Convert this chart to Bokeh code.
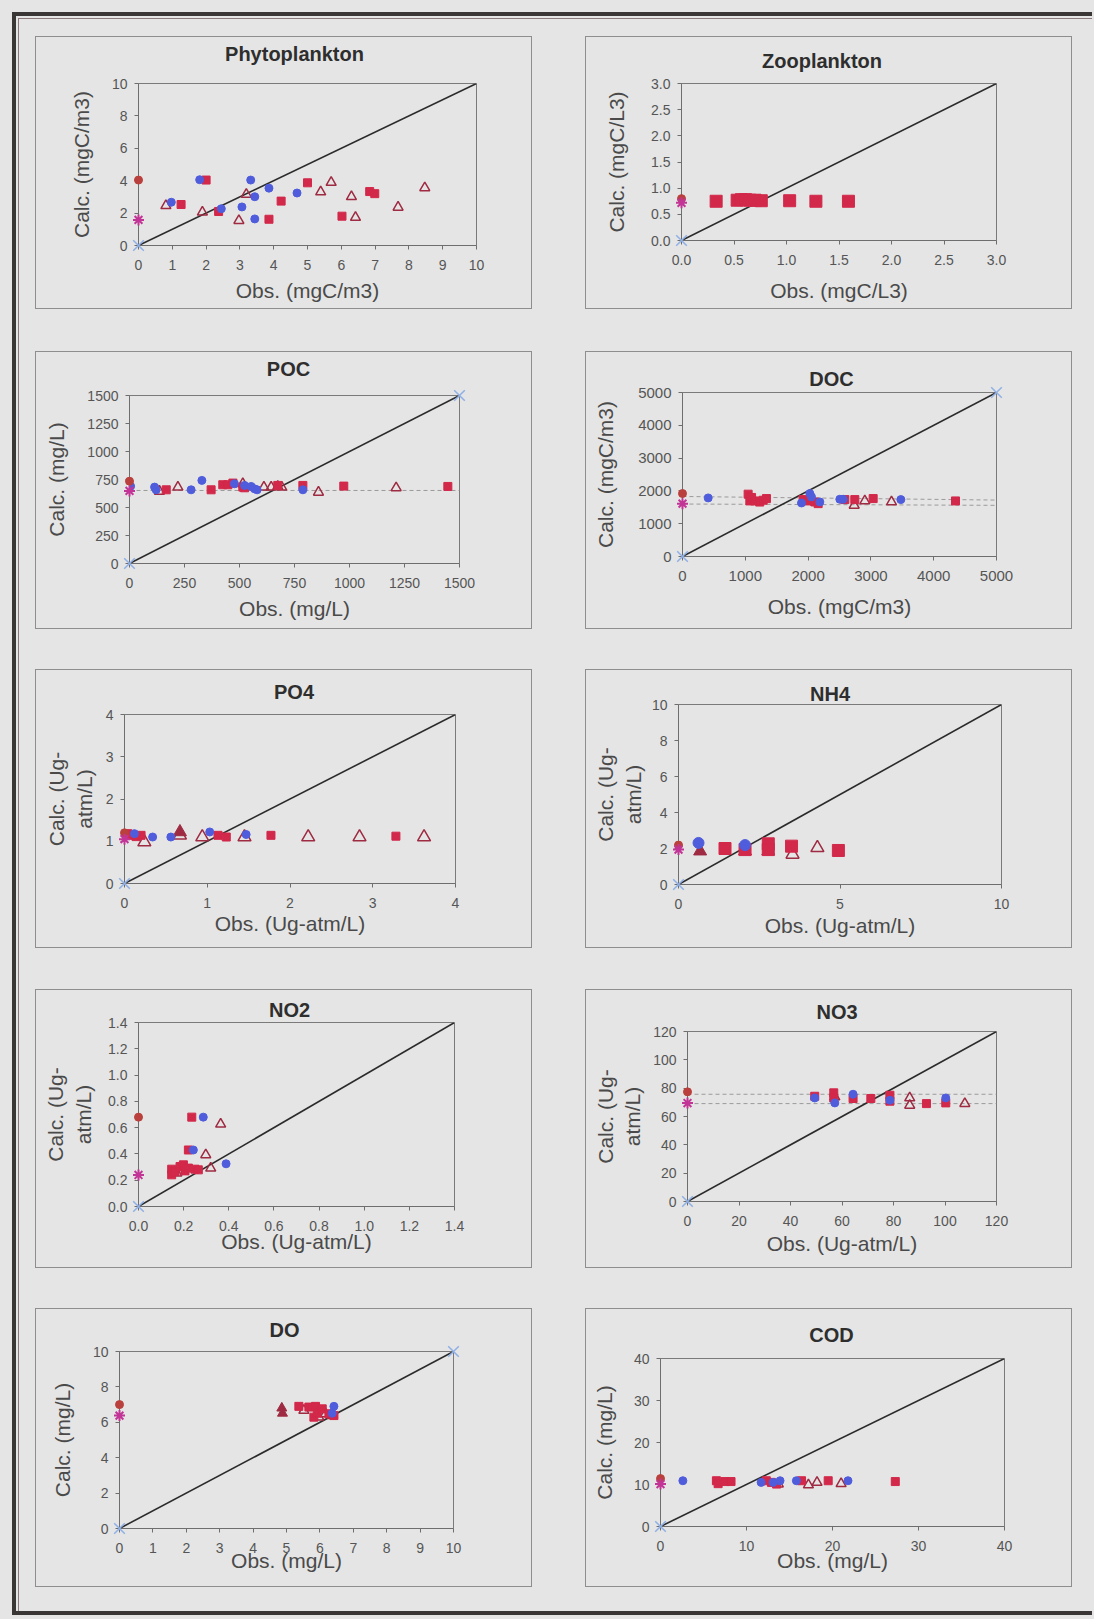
from bokeh.plotting import figure
from bokeh.layouts import column, row
from bokeh.models import Spacer, Range1d, FixedTicker, PrintfTickFormatter
from bokeh.core.properties import value
from bokeh.embed import file_html
from bokeh.resources import INLINE

# ---------------- data ----------------
# Phytoplankton
phyto_circ_x = [0.97, 1.81, 2.45, 3.06, 3.32, 3.44, 3.44, 3.86, 4.69]
phyto_circ_y = [2.67, 4.06, 2.27, 2.38, 4.04, 3.01, 1.64, 3.54, 3.24]
phyto_sq_x = [1.26, 2.0, 2.37, 3.86, 4.22, 5.0, 6.02, 6.84, 6.99]
phyto_sq_y = [2.53, 4.04, 2.10, 1.62, 2.74, 3.87, 1.81, 3.33, 3.20]
phyto_tri_x = [0.81, 1.89, 2.97, 3.19, 5.39, 5.70, 6.30, 6.42, 7.68, 8.47]
phyto_tri_y = [2.46, 2.06, 1.54, 3.16, 3.31, 3.89, 3.01, 1.73, 2.36, 3.56]
phyto_dot0 = [4.04]
phyto_star0 = [1.58]
phyto_ends = [0]

# Zooplankton
zoo_sq_x = [0.33, 0.53, 0.57, 0.61, 0.65, 0.70, 0.76, 1.03, 1.28, 1.59]
zoo_sq_y = [0.75, 0.77, 0.78, 0.78, 0.77, 0.77, 0.76, 0.76, 0.75, 0.75]
zoo_dot0 = [0.80]
zoo_star0 = [0.72]
zoo_ends = [0]

# POC
poc_circ_x = [5, 114, 121, 280, 329, 477, 523, 553, 568, 580, 788]
poc_circ_y = [690, 682, 658, 658, 742, 712, 697, 688, 667, 658, 658]
poc_sq_x = [167, 371, 424, 447, 470, 515, 523, 674, 788, 974, 1447]
poc_sq_y = [658, 658, 703, 703, 718, 682, 676, 697, 697, 691, 688]
poc_tri_x = [136, 220, 515, 611, 644, 674, 692, 859, 1212]
poc_tri_y = [645, 682, 712, 682, 682, 688, 682, 636, 676]
poc_dot0 = [735]
poc_star0 = [648]
poc_ends = [0, 1500]
poc_trend_y = [[652, 652]]

# DOC
doc_circ_x = [409, 1895, 2028, 2054, 2187, 2505, 2558, 3477]
doc_circ_y = [1786, 1632, 1920, 1817, 1663, 1745, 1745, 1735]
doc_sq_x = [1045, 1072, 1100, 1152, 1230, 1284, 1337, 1921, 2001, 2107, 2160, 2585, 2744, 3036, 4347]
doc_sq_y = [1900, 1694, 1800, 1694, 1660, 1715, 1766, 1735, 1694, 1663, 1612, 1735, 1735, 1766, 1694]
doc_tri_x = [1100, 2734, 2903, 3328]
doc_tri_y = [1690, 1560, 1694, 1663]
doc_dot0 = [1920]
doc_star0 = [1612]
doc_ends = [0, 5000]
doc_trend_y = [[1830, 1720], [1600, 1560]]

# PO4
po4_circ_x = [0.12, 0.34, 0.56, 1.03, 1.47]
po4_circ_y = [1.18, 1.10, 1.10, 1.22, 1.16]
po4_sq_x = [0.04, 0.08, 0.14, 0.20, 1.13, 1.23, 1.77, 3.28]
po4_sq_y = [1.18, 1.14, 1.11, 1.14, 1.14, 1.10, 1.14, 1.12]
po4_tri_x = [0.24, 0.67, 0.94, 1.45, 2.22, 2.84, 3.62]
po4_tri_y = [0.98, 1.14, 1.10, 1.10, 1.10, 1.10, 1.10]
po4_trf_x = [0.67]
po4_trf_y = [1.22]
po4_dot0 = [1.20]
po4_star0 = [1.05]
po4_ends = [0]

# NH4
nh4_circ_x = [0.62, 2.06]
nh4_circ_y = [2.31, 2.19]
nh4_sq_x = [1.44, 2.06, 2.78, 2.78, 3.50, 4.95]
nh4_sq_y = [2.00, 1.94, 2.26, 1.94, 2.13, 1.89]
nh4_tri_x = [3.53, 4.30]
nh4_tri_y = [1.67, 2.04]
nh4_trf_x = [0.67, 2.06, 2.78]
nh4_trf_y = [1.85, 1.85, 1.85]
nh4_dot0 = [2.19]
nh4_star0 = [1.94]
nh4_ends = [0]

# NO2
no2_circ_x = [0.243, 0.287, 0.388]
no2_circ_y = [0.43, 0.68, 0.325]
no2_sq_x = [0.147, 0.147, 0.162, 0.184, 0.199, 0.206, 0.221, 0.221, 0.236, 0.25, 0.265]
no2_sq_y = [0.284, 0.241, 0.266, 0.304, 0.317, 0.271, 0.292, 0.43, 0.68, 0.284, 0.279]
no2_tri_x = [0.17, 0.298, 0.32, 0.364]
no2_tri_y = [0.254, 0.393, 0.292, 0.626]
no2_dot0 = [0.68]
no2_star0 = [0.24]
no2_ends = [0]

# NO3
no3_circ_x = [49.4, 57.2, 64.3, 78.6, 100.3]
no3_circ_y = [73.1, 69.6, 75.7, 71.5, 73.1]
no3_sq_x = [49.4, 56.8, 56.8, 64.3, 71.2, 78.6, 78.6, 92.8, 100.3]
no3_sq_y = [74.3, 76.7, 73.1, 72.7, 72.7, 75.0, 70.8, 69.1, 69.6]
no3_tri_x = [57.2, 86.3, 86.3, 107.7]
no3_tri_y = [73.8, 73.1, 67.9, 69.1]
no3_dot0 = [77.4]
no3_star0 = [69.5]
no3_ends = [0]
no3_trend_y = [[75.7, 75.7], [69.1, 69.1]]

# DO
do_circ_x = [6.37, 6.42]
do_circ_y = [6.51, 6.90]
do_sq_x = [5.37, 5.67, 5.82, 5.87, 5.92, 6.07, 6.27, 6.42]
do_sq_y = [6.90, 6.86, 6.29, 6.90, 6.51, 6.76, 6.48, 6.38]
do_tri_x = [5.52, 5.97, 6.17, 6.37]
do_tri_y = [6.67, 6.29, 6.48, 6.38]
do_trf_x = [4.86, 4.88]
do_trf_y = [6.80, 6.51]
do_dot0 = [7.0]
do_star0 = [6.38]
do_ends = [0, 10]

# COD
cod_circ_x = [2.6, 11.7, 13.1, 13.9, 15.8, 21.8]
cod_circ_y = [10.9, 10.5, 10.5, 10.9, 10.9, 10.9]
cod_sq_x = [6.5, 6.7, 7.5, 8.2, 12.3, 12.9, 13.5, 16.4, 19.5, 27.3]
cod_sq_y = [10.9, 10.2, 10.7, 10.7, 10.9, 10.5, 10.1, 10.9, 10.9, 10.7]
cod_tri_x = [13.7, 17.2, 18.2, 21.0]
cod_tri_y = [10.1, 9.9, 10.5, 10.2]
cod_dot0 = [11.4]
cod_star0 = [10.1]
cod_ends = [0]

# axes
phyto_xticks = [0, 1, 2, 3, 4, 5, 6, 7, 8, 9, 10]
phyto_yticks = [0, 2, 4, 6, 8, 10]
zoo_ticks = [0, 0.5, 1.0, 1.5, 2.0, 2.5, 3.0]
poc_ticks = [0, 250, 500, 750, 1000, 1250, 1500]
doc_ticks = [0, 1000, 2000, 3000, 4000, 5000]
po4_ticks = [0, 1, 2, 3, 4]
nh4_xticks = [0, 5, 10]
nh4_yticks = [0, 2, 4, 6, 8, 10]
no2_ticks = [0, 0.2, 0.4, 0.6, 0.8, 1.0, 1.2, 1.4]
no3_ticks = [0, 20, 40, 60, 80, 100, 120]
do_xticks = [0, 1, 2, 3, 4, 5, 6, 7, 8, 9, 10]
do_yticks = [0, 2, 4, 6, 8, 10]
cod_ticks = [0, 10, 20, 30, 40]

# ---------------- style ----------------
BG = "#e5e5e5"
PANEL_BORDER = "#8e8e8e"
FONT = "Liberation Sans"
C_BLUE = "#4f5ddc"
C_RED = "#d2284a"
C_TRI = "#9e2b42"
C_DOT = "#b9403c"
C_STAR = "#c23596"
C_X = "#8fb0e6"


def panel(title, xlabel, ylabel, xmax, ymax, xticks, yticks, fmt, g,
          circ=None, sq=None, tri=None, trf=None, dot0=None, star0=None,
          ends=None, trends=None, msize=(8, 8, 10)):
    w, h, bl, br, bt, bb, tdx, tdy, yls, xls, tick_fs = g
    p = figure(width=w, height=h, x_range=Range1d(0, xmax), y_range=Range1d(0, ymax),
               title=None, output_backend="svg", toolbar_location=None,
               min_border_left=bl, min_border_right=br,
               min_border_top=bt, min_border_bottom=bb,
               background_fill_color=BG, border_fill_color=BG,
               outline_line_color="#7a7a7a", outline_line_width=1,
               styles={"border": "1px solid " + PANEL_BORDER, "flex-shrink": "0"})
    p.grid.visible = False
    for ax, ticks in ((p.xaxis[0], xticks), (p.yaxis[0], yticks)):
        ax.ticker = FixedTicker(ticks=ticks)
        ax.minor_tick_line_color = None
        ax.major_tick_in = 0
        ax.major_tick_out = 4
        ax.axis_line_color = "#6e6e6e"
        ax.major_tick_line_color = "#6e6e6e"
        ax.major_label_text_font = FONT
        ax.major_label_text_font_size = tick_fs
        ax.major_label_text_color = "#555555"
        ax.axis_label_text_font = FONT
        ax.axis_label_text_font_size = "21px"
        ax.axis_label_text_font_style = "normal"
        ax.axis_label_text_color = "#4a4a4a"
        if fmt:
            ax.formatter = PrintfTickFormatter(format=fmt)
    p.xaxis.axis_label = xlabel
    p.yaxis.axis_label = ylabel
    p.xaxis.major_label_standoff = 10
    p.yaxis.major_label_standoff = 7
    p.xaxis.axis_label_standoff = xls
    p.yaxis.axis_label_standoff = yls

    # chart title, anchored above the frame centre
    t = p.text(x=[xmax / 2], y=[ymax], text=[title], x_offset=tdx, y_offset=-tdy,
               text_align="center", text_baseline="middle",
               text_font=value(FONT), text_font_size="20px",
               text_font_style="bold", text_color="#2e2e2e")
    t.level = "overlay"

    if trends:
        for ty in trends:
            p.line([0, xmax], ty, line_color="#9a9a9a", line_width=1, line_dash="4 3")
    p.line([0, xmax], [0, ymax], line_color="#2b2b2b", line_width=1.6)
    cs, ss, tsz = msize
    if tri:
        p.scatter(tri[0], tri[1], marker="triangle", size=tsz, fill_color=None,
                  line_color=C_TRI, line_width=1.5)
    if trf:
        p.scatter(trf[0], trf[1], marker="triangle", size=tsz, fill_color=C_TRI,
                  line_color=C_TRI, line_width=1)
    if sq:
        p.scatter(sq[0], sq[1], marker="square", size=ss, fill_color=C_RED,
                  line_color=C_RED)
    if circ:
        p.scatter(circ[0], circ[1], marker="circle", size=cs, fill_color=C_BLUE,
                  line_color=C_BLUE)
    if dot0:
        r = p.scatter([0] * len(dot0), dot0, marker="circle", size=8, fill_color=C_DOT,
                      line_color=C_DOT)
        r.level = "overlay"
    if star0:
        r = p.scatter([0] * len(star0), star0, marker="asterisk", size=11,
                      line_color=C_STAR, line_width=2)
        r.level = "overlay"
    if ends:
        r = p.scatter(ends, [e * ymax / xmax for e in ends], marker="x", size=15,
                      line_color=C_X, line_width=1.5)
        r.level = "overlay"
    return p


# geometry: width, height, border l, r, t, b, title dx, title dy,
#           ylabel standoff, xlabel standoff, tick font
LW, RW = 497, 487
H = [273, 278, 279, 279, 279]

p1 = panel("Phytoplankton", "Obs. (mgC/m3)", "Calc. (mgC/m3)", 10, 10,
           phyto_xticks, phyto_yticks, None,
           (LW, H[0], 102, 57, 46, 65, -13, 30, 16, 6, "14px"),
           circ=(phyto_circ_x, phyto_circ_y), sq=(phyto_sq_x, phyto_sq_y),
           tri=(phyto_tri_x, phyto_tri_y), dot0=phyto_dot0, star0=phyto_star0,
           ends=phyto_ends)
p2 = panel("Zooplankton", "Obs. (mgC/L3)", "Calc. (mgC/L3)", 3, 3,
           zoo_ticks, zoo_ticks, "%.1f",
           (RW, H[0], 95, 77, 46, 70, -17, 23, 20, 11, "14px"),
           sq=(zoo_sq_x, zoo_sq_y), dot0=zoo_dot0, star0=zoo_star0, ends=zoo_ends,
           msize=(8, 12, 10))
p3 = panel("POC", "Obs. (mg/L)", "Calc. (mg/L)", 1500, 1500,
           poc_ticks, poc_ticks, None,
           (LW, H[1], 93, 74, 43, 67, -6, 27, 16, 6, "14px"),
           circ=(poc_circ_x, poc_circ_y), sq=(poc_sq_x, poc_sq_y),
           tri=(poc_tri_x, poc_tri_y), dot0=poc_dot0, star0=poc_star0,
           ends=poc_ends, trends=poc_trend_y)
p4 = panel("DOC", "Obs. (mgC/m3)", "Calc. (mgC/m3)", 5000, 5000,
           doc_ticks, doc_ticks, None,
           (RW, H[1], 96, 77, 40, 74, -8, 14, 18, 11, "15px"),
           circ=(doc_circ_x, doc_circ_y), sq=(doc_sq_x, doc_sq_y),
           tri=(doc_tri_x, doc_tri_y), dot0=doc_dot0, star0=doc_star0,
           ends=doc_ends, trends=doc_trend_y)
p5 = panel("PO4", "Obs. (Ug-atm/L)", "Calc. (Ug-\natm/L)", 4, 4,
           po4_ticks, po4_ticks, None,
           (LW, H[2], 88, 78, 44, 66, 4, 23, 7, 1, "14px"),
           circ=(po4_circ_x, po4_circ_y), sq=(po4_sq_x, po4_sq_y),
           tri=(po4_tri_x, po4_tri_y), trf=(po4_trf_x, po4_trf_y),
           dot0=po4_dot0, star0=po4_star0, ends=po4_ends, msize=(8, 8, 13))
p6 = panel("NH4", "Obs. (Ug-atm/L)", "Calc. (Ug-\natm/L)", 10, 10,
           nh4_xticks, nh4_yticks, None,
           (RW, H[2], 92, 72, 34, 65, -10, 11, 4, 2, "14px"),
           circ=(nh4_circ_x, nh4_circ_y), sq=(nh4_sq_x, nh4_sq_y),
           tri=(nh4_tri_x, nh4_tri_y), trf=(nh4_trf_x, nh4_trf_y),
           dot0=nh4_dot0, star0=nh4_star0, ends=nh4_ends, msize=(11, 12, 13))
p7 = panel("NO2", "Obs. (Ug-atm/L)", "Calc. (Ug-\natm/L)", 1.4, 1.4,
           no2_ticks, no2_ticks, "%.1f",
           (LW, H[3], 102, 79, 32, 63, -7, 13, 10, -4, "14px"),
           circ=(no2_circ_x, no2_circ_y), sq=(no2_sq_x, no2_sq_y),
           tri=(no2_tri_x, no2_tri_y), dot0=no2_dot0, star0=no2_star0,
           ends=no2_ends)
p8 = panel("NO3", "Obs. (Ug-atm/L)", "Calc. (Ug-\natm/L)", 120, 120,
           no3_ticks, no3_ticks, None,
           (RW, H[3], 101, 77, 41, 68, -5, 20, 6, 3, "14px"),
           circ=(no3_circ_x, no3_circ_y), sq=(no3_sq_x, no3_sq_y),
           tri=(no3_tri_x, no3_tri_y), dot0=no3_dot0, star0=no3_star0,
           ends=no3_ends, trends=no3_trend_y)
p9 = panel("DO", "Obs. (mg/L)", "Calc. (mg/L)", 10, 10,
           do_xticks, do_yticks, None,
           (LW, H[4], 83, 80, 42, 60, -2, 22, 16, -7, "14px"),
           circ=(do_circ_x, do_circ_y), sq=(do_sq_x, do_sq_y),
           tri=(do_tri_x, do_tri_y), trf=(do_trf_x, do_trf_y),
           dot0=do_dot0, star0=do_star0, ends=do_ends)
p10 = panel("COD", "Obs. (mg/L)", "Calc. (mg/L)", 40, 40,
            cod_ticks, cod_ticks, None,
            (RW, H[4], 74, 69, 49, 62, -1, 24, 15, -5, "14px"),
            circ=(cod_circ_x, cod_circ_y), sq=(cod_sq_x, cod_sq_y),
            tri=(cod_tri_x, cod_tri_y), dot0=cod_dot0, star0=cod_star0,
            ends=cod_ends)


def prow(a, b, h):
    # each figure sits in its own column so the row does not align their frames
    return row(Spacer(width=19, height=h), column(a), Spacer(width=53, height=h),
               column(b), Spacer(width=20, height=h))


layout = column(
    Spacer(width=1076, height=20),
    prow(p1, p2, H[0]), Spacer(height=42),
    prow(p3, p4, H[1]), Spacer(height=40),
    prow(p5, p6, H[2]), Spacer(height=41),
    prow(p7, p8, H[3]), Spacer(height=40),
    prow(p9, p10, H[4]), Spacer(height=24),
    margin=(12, 0, 0, 12),
    styles={"background-color": BG,
            "border-left": "4px solid #3a3636",
            "border-top": "4px solid #3a3636",
            "border-bottom": "4px solid #3a3636",
            "box-shadow": "inset 2px 2px 0 0 " + BG + ", inset 3px 3px 0 0 #8c7a7a",
            "outline": "12px solid " + BG},
)

open("out.html", "w").write(file_html(layout, INLINE))
